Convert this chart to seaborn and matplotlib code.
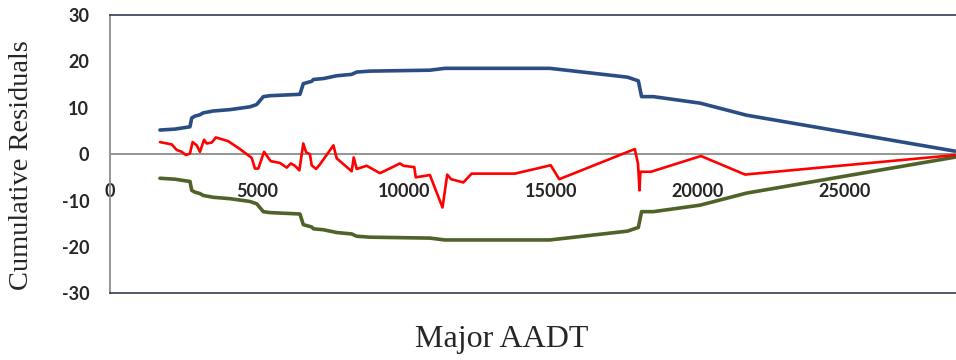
import matplotlib
matplotlib.use("Agg")
import matplotlib.pyplot as plt
import pandas as pd
import seaborn as sns

# Major AADT values and cumulative residuals with their +/- 2 sigma bounds
bound_aadt = [1700, 2210, 2720, 2780, 2890, 3060, 3170, 3510, 4080, 4760, 4990,
              5215, 5440, 6460, 6575, 6860, 6920, 7260, 7710, 8220, 8390, 8840,
              9860, 10880, 11390, 14960, 17600, 17970, 18080, 18480, 20070,
              21650, 28740]
upper_bound = [5.2, 5.4, 5.9, 7.8, 8.2, 8.5, 8.9, 9.3, 9.6, 10.2, 10.7,
               12.4, 12.6, 12.9, 15.2, 15.7, 16.1, 16.3, 16.9, 17.2, 17.7, 17.9,
               18.0, 18.1, 18.5, 18.5, 16.6, 15.8, 12.4, 12.4, 11.0,
               8.4, 0.65]
lower_bound = [-5.2, -5.4, -5.9, -7.8, -8.2, -8.5, -8.9, -9.3, -9.6, -10.2, -10.7,
               -12.4, -12.6, -12.9, -15.2, -15.7, -16.1, -16.3, -16.9, -17.2, -17.7, -17.9,
               -18.0, -18.1, -18.5, -18.5, -16.6, -15.8, -12.4, -12.4, -11.0,
               -8.4, -0.65]

resid_aadt = [1700, 2100, 2270, 2440, 2585, 2720, 2810, 2950, 3060, 3200, 3290,
              3460, 3600, 4020, 4420, 4650, 4820, 4930, 5045, 5240, 5465, 5780,
              6010, 6150, 6290, 6440, 6575, 6670, 6800, 6860, 7010, 7140, 7600,
              7710, 8220, 8290, 8390, 8730, 9180, 9640, 9860, 9980, 10350, 10400,
              10880, 11310, 11470, 11600, 12020, 12300, 13770, 14990, 15280,
              17850, 17960, 18010, 18040, 18400, 20100, 21600, 28740]
cum_resid = [2.6, 2.1, 0.9, 0.5, -0.2, 0.15, 2.6, 1.9, 0.5, 3.1, 2.3,
             2.5, 3.6, 2.8, 1.1, 0.0, -0.8, -3.1, -3.1, 0.5, -1.5, -1.9,
             -2.9, -2.0, -2.5, -3.5, 2.3, 0.4, 0.0, -2.4, -3.2, -2.2, 1.9,
             -0.9, -3.7, -0.7, -3.2, -2.5, -4.1, -2.7, -2.0, -2.5, -2.8, -5.0,
             -4.5, -11.5, -4.4, -5.4, -6.1, -4.2, -4.2, -2.4, -5.4,
             1.1, -2.1, -7.8, -3.8, -3.8, -0.4, -4.4, -0.2]

x_ticks = [0, 5000, 10000, 15000, 20000, 25000]
x_tick_labels = ["0", "5000", "10000", "15000", "20000", "25000"]
y_ticks = [-30, -20, -10, 0, 10, 20, 30]
y_tick_labels = ["-30", "-20", "-10", "0", "10", "20", "30"]

sns.set_style("white")
plt.rcParams["font.family"] = ["Lato", "DejaVu Sans"]

fig = plt.figure(figsize=(9.56, 3.6), dpi=100)
ax = fig.add_axes([110 / 956, 1 - 293.3 / 360, 1 - 110 / 956, (293.3 - 15) / 360])

bounds_up = pd.DataFrame({"aadt": bound_aadt, "value": upper_bound})
bounds_lo = pd.DataFrame({"aadt": bound_aadt, "value": lower_bound})
resid = pd.DataFrame({"aadt": resid_aadt, "value": cum_resid})

ax.axhline(0, color="#8c8c8c", lw=1.3, zorder=1)
sns.lineplot(data=bounds_up, x="aadt", y="value", ax=ax, color="#2a4d84",
             lw=2.6, estimator=None, sort=False, zorder=3)
sns.lineplot(data=bounds_lo, x="aadt", y="value", ax=ax, color="#4f6228",
             lw=2.6, estimator=None, sort=False, zorder=3)
sns.lineplot(data=resid, x="aadt", y="value", ax=ax, color="#ff0000",
             lw=1.9, estimator=None, sort=False, zorder=4)

ax.set_xlim(0, 28775)
ax.set_ylim(-30, 30)
ax.set_xlabel("")
ax.set_ylabel("")

ax.set_yticks(y_ticks)
ax.set_yticklabels(y_tick_labels, fontweight="bold", fontsize=13)
ax.tick_params(axis="y", length=0, pad=15)
ax.tick_params(axis="x", bottom=False, labelbottom=False)

# x tick labels sit just under the zero line
sec = ax.secondary_xaxis(0.5)
sec.xaxis.set_ticks_position("bottom")
sec.xaxis.set_label_position("bottom")
sec.set_xticks(x_ticks)
sec.set_xticklabels(x_tick_labels, fontweight="bold", fontsize=13)
sec.tick_params(axis="x", length=0, pad=21, bottom=True, top=False,
                labelbottom=True, labeltop=False)
for side in ("bottom", "top"):
    sec.spines[side].set_visible(False)

ax.spines["right"].set_visible(False)
ax.spines["left"].set_color("#8c8c8c")
ax.spines["left"].set_linewidth(1.3)
ax.spines["top"].set_color("#2f3e54")
ax.spines["top"].set_linewidth(1.2)
ax.spines["bottom"].set_color("#2f3e54")
ax.spines["bottom"].set_linewidth(1.2)
ax.grid(False)

fig.text(22 / 956, 1 - 165 / 360, "Cumulative Residuals", rotation=90,
         ha="center", va="center", fontsize=20.5, family="Liberation Serif")
fig.text(502 / 956, 1 - 340 / 360, "Major AADT", ha="center", va="center",
         fontsize=23, family="Liberation Serif")

fig.savefig("out.png", dpi=100)
